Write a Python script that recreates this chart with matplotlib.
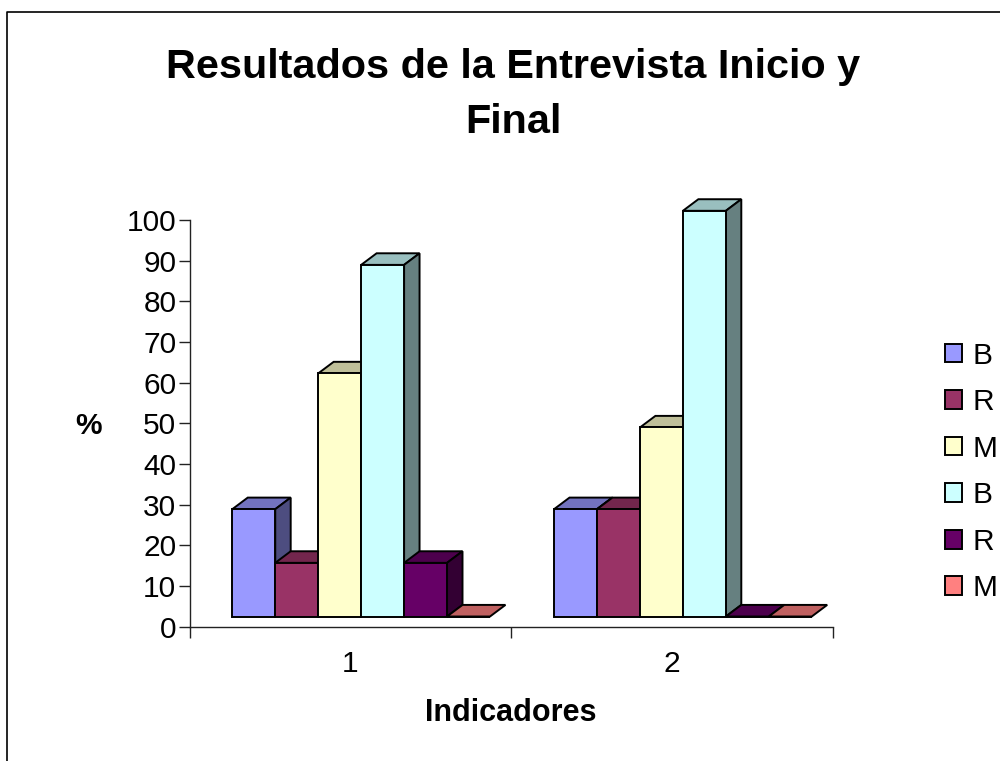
import numpy as np
import matplotlib
matplotlib.use('Agg')
import matplotlib.pyplot as plt
from matplotlib.colors import to_rgb
from matplotlib.lines import Line2D

plt.rcParams['font.family'] = ['Liberation Sans', 'DejaVu Sans']

categories = ['1', '2']
series_names = ['B', 'R', 'M', 'B', 'R', 'M']
series_values = [
    [26.4, 26.4],
    [13.2, 26.4],
    [59.8, 46.5],
    [86.5, 99.8],
    [13.2, 0.0],
    [0.0, 0.0],
]
colors = ['#9999FF', '#993366', '#FFFFCC', '#CCFFFF', '#660066', '#FF8080']

W, H = 1000, 761
bar_w = 0.1335
group_offset = 0.133   # first bar's left edge, from the group's slot start
depth_x = 0.048
depth_y = 2.85
floor = 2.46           # bars float above the axis like the excel 3d wall


def shade(color, f):
    return tuple(c * f for c in to_rgb(color))


fig = plt.figure(figsize=(W / 100, H / 100), dpi=100)
ax = fig.add_axes([189.5 / W, 1 - 626.5 / H, (833 - 189.5) / W, (626.5 - 220) / H])

x_pos = np.arange(len(categories)) + 0.5
lw = 1.4
handles = []
for i, vals in enumerate(series_values):
    col = colors[i]
    for k, v in enumerate(vals):
        x0 = x_pos[k] + group_offset + i * bar_w
        x1 = x0 + bar_w
        top = floor + v
        # top face
        ax.fill([x0, x1, x1 + depth_x, x0 + depth_x],
                [top, top, top + depth_y, top + depth_y],
                facecolor=shade(col, 0.75), edgecolor='black', linewidth=lw,
                clip_on=False, joinstyle='miter')
        # side face
        if v > 0:
            ax.fill([x1, x1 + depth_x, x1 + depth_x, x1],
                    [floor, floor + depth_y, top + depth_y, top],
                    facecolor=shade(col, 0.5), edgecolor='black', linewidth=lw,
                    clip_on=False, joinstyle='miter')
    bars = ax.bar(x_pos + group_offset + i * bar_w, vals, bar_w, bottom=floor, align='edge',
                  color=col, edgecolor='black', linewidth=lw, clip_on=False, label=series_names[i])
    handles.append(bars)

ax.set_xlim(0.5, 2.5)
ax.set_ylim(0, 100)
ax.set_yticks(np.arange(0, 101, 10))
ax.set_xticks([0.5, 1.5, 2.5])
ax.set_xticklabels([])
ax.set_xticks([1.0, 2.0], minor=True)
ax.set_xticklabels(categories, minor=True)
ax.tick_params(axis='x', which='minor', length=0, labelsize=21.5, pad=17)
ax.tick_params(axis='x', which='major', length=8, width=1, color='#222222')
ax.tick_params(axis='y', length=8, width=1, color='#222222', labelsize=21.5, pad=1.5)
for s in ['top', 'right']:
    ax.spines[s].set_visible(False)
for s in ['left', 'bottom']:
    ax.spines[s].set_linewidth(1)
    ax.spines[s].set_color('#222222')

fig.text(513 / W, 1 - 67 / H, 'Resultados de la Entrevista Inicio y', ha='center', va='center',
         fontsize=29.8, fontweight='bold')
fig.text(513 / W, 1 - 122 / H, 'Final', ha='center', va='center', fontsize=29.8, fontweight='bold')
fig.text(89 / W, 1 - 426 / H, '%', ha='center', va='center', fontsize=21.5, fontweight='bold')
fig.text(511 / W, 1 - 713 / H, 'Indicadores', ha='center', va='center', fontsize=22, fontweight='bold')

fig.legend(handles=handles, labels=series_names, loc='center left',
           bbox_to_anchor=(944.5 / W, 1 - 472 / H), frameon=False, fontsize=21.5,
           handlelength=0.58, handleheight=0.58, handletextpad=0.35,
           labelspacing=0.62, borderpad=0, borderaxespad=0)

# chart border, only top and left are inside the picture
fig.add_artist(Line2D([6.5 / W, 6.5 / W, 1], [0, 1 - 11.5 / H, 1 - 11.5 / H], color='black', linewidth=1.2))

fig.savefig('out.png', dpi=100, facecolor='white')
